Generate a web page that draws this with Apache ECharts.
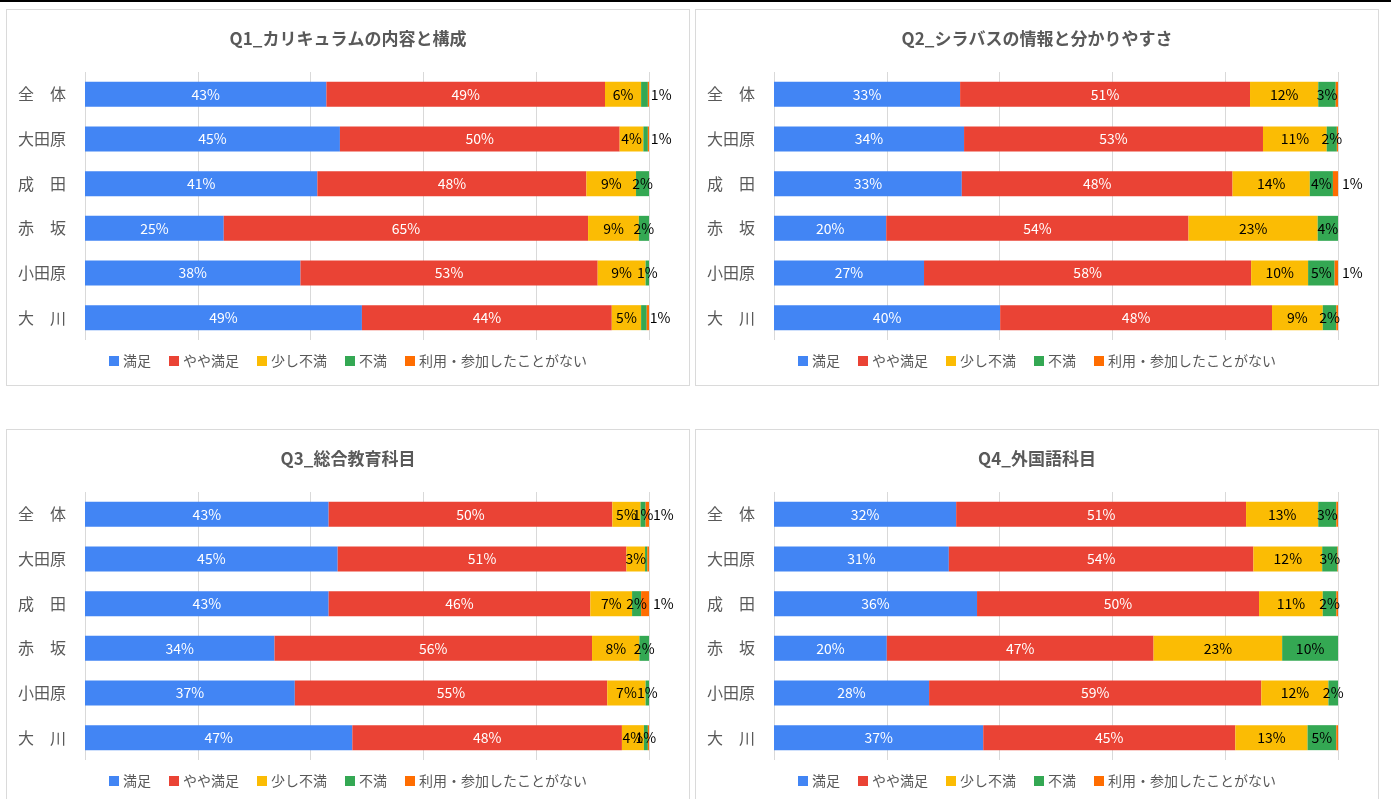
<!DOCTYPE html>
<html>
<head>
<meta charset="utf-8">
<script src="https://cdn.jsdelivr.net/npm/echarts@6/dist/echarts.min.js"></script>
<style>
    html, body { margin: 0; padding: 0; background: #fff; overflow: hidden; }
    body { width: 1391px; height: 799px; position: relative; }
    .topline { position: absolute; left: 0; top: 0; width: 1391px; height: 2px; background: #000; }
    .panel { position: absolute; border: 1px solid #dadada; box-sizing: border-box; background: #fff; }
    #q1 { left: 6px; top: 9px; width: 684px; height: 377px; }
    #q2 { left: 695px; top: 9px; width: 684px; height: 377px; }
    #q3 { left: 6px; top: 429px; width: 684px; height: 400px; }
    #q4 { left: 695px; top: 429px; width: 684px; height: 400px; }
</style>
</head>
<body>
<div class="topline"></div>
<div class="panel" id="q1"></div>
<div class="panel" id="q2"></div>
<div class="panel" id="q3"></div>
<div class="panel" id="q4"></div>
<script>
var campus = ['全　体', '大田原', '成　田', '赤　坂', '小田原', '大　川']
var answers = ['満足', 'やや満足', '少し不満', '不満', '利用・参加したことがない']
var colors = ['#4285f4', '#ea4335', '#fbbc04', '#34a853', '#ff6d01']

// Q1_カリキュラムの内容と構成 (%)
var q1_manzoku = [42.8, 45.2, 41.2, 24.6, 38.2, 49.1]
var q1_yaya = [49.4, 49.6, 47.7, 64.6, 52.7, 44.3]
var q1_sukoshi = [6.4, 4.2, 8.8, 9.0, 8.5, 5.2]
var q1_fuman = [1.2, 0.8, 2.3, 1.8, 0.6, 1.0]
var q1_nashi = [0.2, 0.2, 0, 0, 0, 0.4]

// Q2_シラバスの情報と分かりやすさ
var q2_manzoku = [33.0, 33.7, 33.3, 19.9, 26.6, 40.1]
var q2_yaya = [51.4, 53.0, 48.0, 53.6, 58.0, 48.2]
var q2_sukoshi = [12.1, 11.3, 13.7, 22.9, 10.1, 9.0]
var q2_fuman = [3.1, 1.8, 4.1, 3.6, 4.7, 2.4]
var q2_nashi = [0.4, 0.2, 0.9, 0, 0.6, 0.3]

// Q3_総合教育科目
var q3_manzoku = [43.2, 44.8, 43.2, 33.6, 37.2, 47.4]
var q3_yaya = [50.3, 51.2, 46.4, 56.3, 55.4, 47.8]
var q3_sukoshi = [5.0, 3.3, 7.4, 8.4, 6.8, 3.9]
var q3_fuman = [0.9, 0.4, 1.6, 1.7, 0.6, 0.7]
var q3_nashi = [0.6, 0.3, 1.4, 0, 0, 0.2]

// Q4_外国語科目
var q4_manzoku = [32.3, 31.0, 36.0, 20.0, 27.5, 37.1]
var q4_yaya = [51.4, 54.0, 50.0, 47.3, 58.9, 44.7]
var q4_sukoshi = [12.8, 12.2, 11.3, 22.8, 11.9, 12.8]
var q4_fuman = [3.2, 2.7, 2.4, 9.9, 1.7, 5.1]
var q4_nashi = [0.3, 0.1, 0.3, 0, 0, 0.3]

// rows whose 不満 label sits right of the bar (Q1 only)
var q1_fumanRight = [0, 1, 5]

var font = '"Noto Sans CJK JP", "Noto Sans", sans-serif'

function pct(p) {
    var v = Math.round(p.value)
    return v > 0 ? v + '%' : ''
}

function makeChart(id, title, list, fumanRight) {
    var chart = echarts.init(document.getElementById(id), null, { renderer: 'canvas' })
    var series = []
    for (var s = 0; s < list.length; s++) {
        var items = []
        for (var i = 0; i < list[s].length; i++) {
            var item = { value: list[s][i] }
            if (s == 3 && fumanRight.indexOf(i) >= 0) {
                item.label = { position: 'right', distance: 3 }
            }
            items.push(item)
        }
        series.push({
            name: answers[s],
            type: 'bar',
            stack: 'all',
            barWidth: 25,
            itemStyle: { color: colors[s] },
            label: {
                show: true,
                position: s == 4 ? 'right' : 'inside',
                distance: 4,
                formatter: pct,
                color: s < 2 ? '#fff' : '#000',
                fontFamily: font,
                fontSize: 14
            },
            emphasis: { disabled: true },
            data: items
        })
    }
    chart.setOption({
        animation: false,
        title: {
            text: title,
            left: 'center',
            top: 15,
            textStyle: { color: '#595959', fontSize: 17, fontWeight: 'bold', fontFamily: font }
        },
        legend: {
            top: 339,
            left: 'center',
            itemWidth: 10,
            itemHeight: 10,
            itemGap: 18,
            icon: 'rect',
            textStyle: { color: '#595959', fontSize: 14, fontFamily: font, padding: [0, 0, 0, -1] },
            data: answers
        },
        grid: { left: 78, right: 40, top: 62, height: 268 },
        xAxis: {
            type: 'value',
            min: 0,
            max: 100,
            interval: 20,
            axisLabel: { show: false },
            axisLine: { show: false },
            axisTick: { show: false },
            splitLine: { lineStyle: { color: '#d9d9d9' } }
        },
        yAxis: {
            type: 'category',
            inverse: true,
            data: campus,
            axisLine: { show: false },
            axisTick: { show: false },
            axisLabel: { color: '#595959', fontSize: 16, fontFamily: font, margin: 19 }
        },
        series: series
    })
}

makeChart('q1', 'Q1_カリキュラムの内容と構成', [q1_manzoku, q1_yaya, q1_sukoshi, q1_fuman, q1_nashi], q1_fumanRight)
makeChart('q2', 'Q2_シラバスの情報と分かりやすさ', [q2_manzoku, q2_yaya, q2_sukoshi, q2_fuman, q2_nashi], [])
makeChart('q3', 'Q3_総合教育科目', [q3_manzoku, q3_yaya, q3_sukoshi, q3_fuman, q3_nashi], [])
makeChart('q4', 'Q4_外国語科目', [q4_manzoku, q4_yaya, q4_sukoshi, q4_fuman, q4_nashi], [])
</script>
</body>
</html>
